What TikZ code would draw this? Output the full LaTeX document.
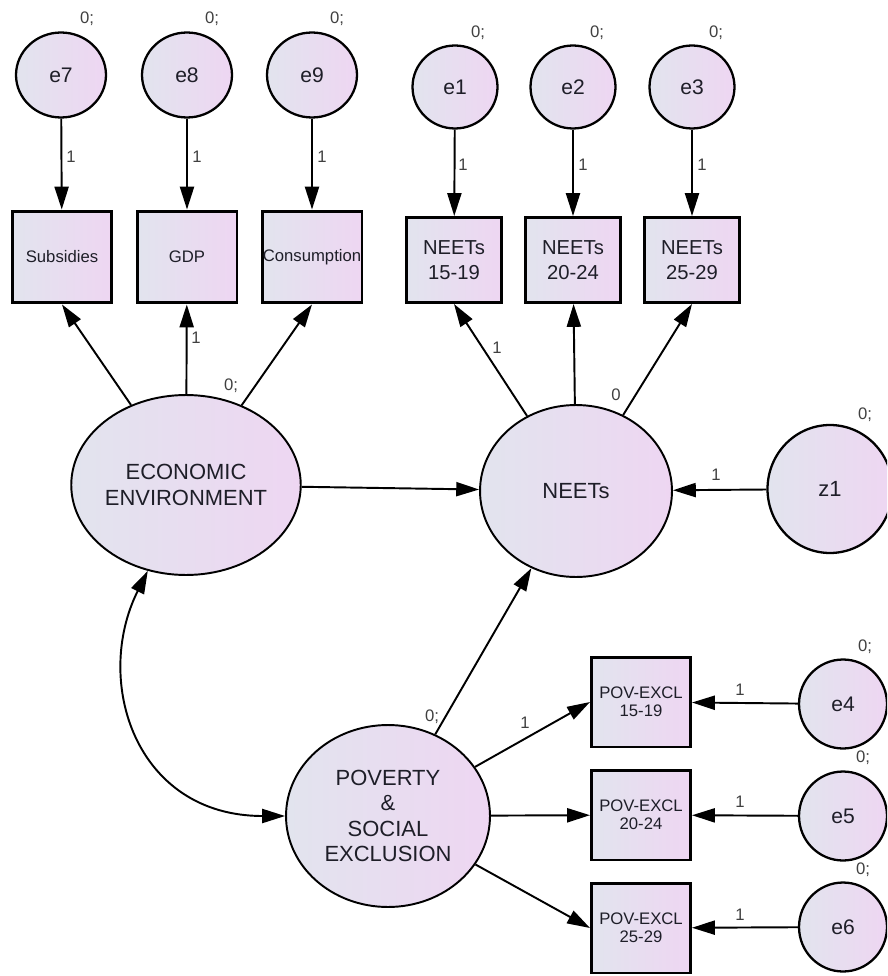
\documentclass[tikz,border=0pt]{standalone}
\usepackage{fontspec}
\setmainfont{Liberation Sans}
\usetikzlibrary{arrows.meta,shapes.geometric,positioning}
\definecolor{shadeL}{RGB}{226,228,238}
\definecolor{shadeR}{RGB}{238,214,242}
\definecolor{ink}{RGB}{30,30,40}
\tikzset{every picture/.style={line width=0.75pt}}
\tikzset{
  lat/.style={ellipse, draw, line width=1.1pt, left color=shadeL, right color=shadeR,
    inner sep=0pt, align=center, text=ink, font=\fontsize{12.5}{14.4}\selectfont},
  err/.style={ellipse, draw, line width=1.3pt, left color=shadeL, right color=shadeR,
    inner sep=0pt, text=ink, font=\fontsize{12}{14}\selectfont},
  obs/.style={rectangle, draw, line width=1.7pt, left color=shadeL, right color=shadeR,
    inner sep=0pt, align=center, text=ink},
  reg/.style={-{Triangle[length=13pt,width=8pt]}, line width=1.1pt},
  cov/.style={{Triangle[length=13pt,width=8pt]}-{Triangle[length=13pt,width=8pt]}, line width=1.1pt},
  lbl/.style={font=\fontsize{9.5}{11}\selectfont, text=black!75, inner sep=0pt},
}

\begin{document}
\begin{tikzpicture}[x=0.02cm, y=-0.02cm]
    \useasboundingbox (0,0) rectangle (887,976);
    \clip (0,0) rectangle (887,976);

    % economic indicators
    \node[obs, minimum width=2cm, minimum height=1.84cm, font=\fontsize{9.5}{11}\selectfont] (subs) at (62,257) {Subsidies};
    \node[obs, minimum width=2cm, minimum height=1.84cm, font=\fontsize{9.5}{11}\selectfont] (gdp) at (187,257) {GDP};
    \node[obs, minimum width=2cm, minimum height=1.84cm, font=\fontsize{9.5}{11}\selectfont] (cons) at (312,257) {Consumption};

    % NEETs indicators
    \node[obs, minimum width=1.9cm, minimum height=1.7cm, font=\fontsize{11.5}{14}\selectfont] (n1519) at (454,260) {NEETs\\15-19};
    \node[obs, minimum width=1.9cm, minimum height=1.7cm, font=\fontsize{11.5}{14}\selectfont] (n2024) at (573,260) {NEETs\\20-24};
    \node[obs, minimum width=1.9cm, minimum height=1.7cm, font=\fontsize{11.5}{14}\selectfont] (n2529) at (692,260) {NEETs\\25-29};

    % poverty indicators
    \node[obs, minimum width=1.98cm, minimum height=1.8cm, font=\fontsize{9.5}{10.5}\selectfont] (p1519) at (641,702) {POV-EXCL\\15-19};
    \node[obs, minimum width=1.98cm, minimum height=1.8cm, font=\fontsize{9.5}{10.5}\selectfont] (p2024) at (641,815) {POV-EXCL\\20-24};
    \node[obs, minimum width=1.98cm, minimum height=1.8cm, font=\fontsize{9.5}{10.5}\selectfont] (p2529) at (641,928) {POV-EXCL\\25-29};

    % latent variables
    \node[lat, minimum width=4.04cm, minimum height=3.6cm] (econ) at (186,485) {ECONOMIC\\ENVIRONMENT};
    \node[lat, minimum width=3.84cm, minimum height=3.44cm] (neets) at (576,491) {NEETs};
    \node[lat, minimum width=4.08cm, minimum height=3.64cm] (pov) at (388,816) {POVERTY\\\&\\SOCIAL\\EXCLUSION};

    % error terms
    \node[err, minimum width=1.8cm, minimum height=1.7cm] (e7) at (61,75) {e7};
    \node[err, minimum width=1.8cm, minimum height=1.7cm] (e8) at (187,75) {e8};
    \node[err, minimum width=1.8cm, minimum height=1.7cm] (e9) at (312,75) {e9};
    \node[err, minimum width=1.7cm, minimum height=1.66cm] (e1) at (455,87) {e1};
    \node[err, minimum width=1.7cm, minimum height=1.66cm] (e2) at (573,87) {e2};
    \node[err, minimum width=1.7cm, minimum height=1.66cm] (e3) at (692,87) {e3};
    \node[err, minimum width=1.76cm, minimum height=1.78cm] (e4) at (843,704) {e4};
    \node[err, minimum width=1.76cm, minimum height=1.78cm] (e5) at (843,816) {e5};
    \node[err, minimum width=1.76cm, minimum height=1.78cm] (e6) at (843,927) {e6};
    \node[err, minimum width=2.5cm, minimum height=2.56cm, font=\fontsize{12.5}{14}\selectfont] (z1) at (830,489) {z1};

    % error paths
    \draw[reg] (e7) -- (subs);
    \draw[reg] (e8) -- (gdp);
    \draw[reg] (e9) -- (cons);
    \draw[reg] (e1) -- (n1519);
    \draw[reg] (e2) -- (n2024);
    \draw[reg] (e3) -- (n2529);
    \draw[reg] (e4) -- (p1519);
    \draw[reg] (e5) -- (p2024);
    \draw[reg] (e6) -- (p2529);
    \draw[reg] (z1) -- (neets);

    % loadings
    \draw[reg] (econ) -- (subs.south);
    \draw[reg] (econ) -- (gdp);
    \draw[reg] (econ) -- (cons.south);
    \draw[reg] (neets) -- (n1519.south);
    \draw[reg] (neets) -- (n2024);
    \draw[reg] (neets) -- (n2529.south);
    \draw[reg] (pov) -- (p1519.west);
    \draw[reg] (pov) -- (p2024);
    \draw[reg] (pov) -- (p2529.west);

    % structural paths
    \draw[reg] (econ) -- (neets);
    \draw[reg] (pov) -- (neets);
    \draw[cov] (econ.246) .. controls +(-55,110) and +(-150,0) .. (pov.west);

    % weights
    \node[lbl] (w7) at (71,157) {1};
    \node[lbl] (w8) at (197,157) {1};
    \node[lbl] (w9) at (322,157) {1};
    \node[lbl] (w1) at (463,165) {1};
    \node[lbl] (w2) at (583,165) {1};
    \node[lbl] (w3) at (702,165) {1};
    \node[lbl] (wg) at (196,338) {1};
    \node[lbl] (wn) at (497,348) {1};
    \node[lbl] (wz) at (716,475) {1};
    \node[lbl] (wp) at (525,723) {1};
    \node[lbl] (w4) at (740,690) {1};
    \node[lbl] (w5) at (740,802) {1};
    \node[lbl] (w6) at (740,915) {1};

    % variances
    \node[lbl] (v7) at (87,19) {0;};
    \node[lbl] (v8) at (212,19) {0;};
    \node[lbl] (v9) at (337,19) {0;};
    \node[lbl] (v1) at (478,33) {0;};
    \node[lbl] (v2) at (597,33) {0;};
    \node[lbl] (v3) at (716,33) {0;};
    \node[lbl] (vecon) at (231,386) {0;};
    \node[lbl] (vneets) at (616,395) {0};
    \node[lbl] (vz) at (865,415) {0;};
    \node[lbl] (vpov) at (432,717) {0;};
    \node[lbl] (v4) at (865,647) {0;};
    \node[lbl] (v5) at (863,758) {0;};
    \node[lbl] (v6) at (863,870) {0;};
\end{tikzpicture}
\end{document}
